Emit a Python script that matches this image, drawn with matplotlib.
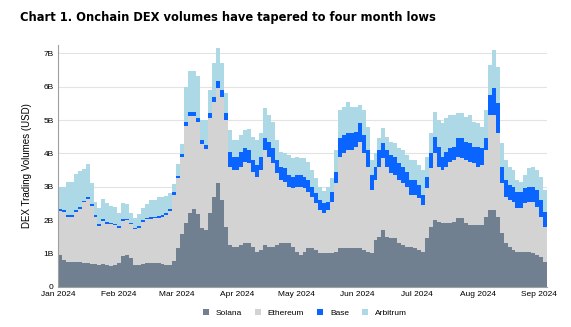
import numpy as np
import pandas as pd
import matplotlib
matplotlib.use('Agg')
import matplotlib.pyplot as plt
from matplotlib.patches import Patch

# DEX trading volume by chain, billion USD, one reading every 2 days from 1 Jan 2024
solana = [0.94, 0.81, 0.74, 0.74, 0.74, 0.73, 0.71, 0.71, 0.69, 0.69,
          0.66, 0.68, 0.66, 0.63, 0.66, 0.71, 0.91, 0.94, 0.86, 0.66,
          0.66, 0.69, 0.71, 0.70, 0.71, 0.70, 0.69, 0.66, 0.66, 0.76,
          1.16, 1.57, 1.92, 2.22, 2.32, 2.17, 1.75, 1.70, 2.20, 2.70,
          3.10, 2.60, 1.80, 1.25, 1.20, 1.20, 1.25, 1.30, 1.30, 1.20,
          1.05, 1.10, 1.25, 1.20, 1.20, 1.25, 1.30, 1.30, 1.30, 1.20,
          1.05, 0.95, 1.05, 1.15, 1.15, 1.10, 1.00, 1.00, 1.00, 1.00,
          1.05, 1.15, 1.15, 1.15, 1.15, 1.15, 1.15, 1.10, 1.05, 1.00,
          1.40, 1.50, 1.70, 1.50, 1.45, 1.45, 1.30, 1.25, 1.20, 1.20,
          1.15, 1.10, 1.05, 1.45, 1.80, 2.00, 1.95, 1.90, 1.90, 1.90,
          1.95, 2.05, 2.05, 1.90, 1.85, 1.85, 1.85, 1.85, 2.10, 2.30,
          2.30, 2.10, 1.60, 1.30, 1.20, 1.10, 1.05, 1.05, 1.05, 1.05,
          1.00, 0.95, 0.90, 0.75]
ethereum = [1.33, 1.44, 1.35, 1.35, 1.50, 1.61, 1.82, 1.92, 1.73, 1.41,
            1.16, 1.29, 1.23, 1.24, 1.18, 1.06, 1.07, 1.05, 1.01, 1.06,
            1.11, 1.25, 1.31, 1.34, 1.34, 1.37, 1.41, 1.49, 1.61, 1.99,
            2.09, 2.32, 2.91, 2.91, 2.81, 2.76, 2.52, 2.42, 2.85, 2.85,
            2.86, 3.10, 3.20, 2.35, 2.30, 2.30, 2.35, 2.45, 2.40, 2.25,
            2.25, 2.40, 2.85, 2.70, 2.50, 2.15, 1.90, 1.85, 1.70, 1.75,
            1.95, 2.05, 1.90, 1.70, 1.55, 1.40, 1.30, 1.20, 1.30, 1.55,
            2.05, 2.75, 2.85, 2.95, 2.95, 3.05, 3.20, 2.90, 2.55, 1.90,
            1.80, 2.10, 2.15, 2.10, 1.95, 1.90, 1.90, 1.85, 1.80, 1.55,
            1.60, 1.55, 1.40, 1.50, 1.75, 2.00, 1.65, 1.60, 1.70, 1.85,
            1.85, 1.85, 1.80, 1.90, 1.90, 1.85, 1.75, 1.80, 2.00, 2.85,
            2.85, 2.50, 1.50, 1.40, 1.40, 1.45, 1.30, 1.30, 1.45, 1.50,
            1.55, 1.45, 1.20, 1.05]
base = [0.05, 0.05, 0.05, 0.05, 0.05, 0.05, 0.05, 0.05, 0.05, 0.05,
        0.05, 0.05, 0.05, 0.05, 0.05, 0.05, 0.05, 0.05, 0.05, 0.05,
        0.05, 0.05, 0.05, 0.05, 0.05, 0.05, 0.05, 0.05, 0.05, 0.08,
        0.08, 0.10, 0.12, 0.12, 0.12, 0.12, 0.12, 0.12, 0.15, 0.15,
        0.20, 0.20, 0.20, 0.45, 0.40, 0.40, 0.45, 0.40, 0.40, 0.35,
        0.35, 0.40, 0.35, 0.45, 0.45, 0.40, 0.40, 0.40, 0.35, 0.35,
        0.35, 0.35, 0.35, 0.35, 0.30, 0.30, 0.30, 0.30, 0.25, 0.30,
        0.35, 0.55, 0.55, 0.50, 0.50, 0.45, 0.55, 0.55, 0.50, 0.45,
        0.40, 0.50, 0.45, 0.50, 0.55, 0.55, 0.50, 0.50, 0.45, 0.45,
        0.45, 0.40, 0.30, 0.35, 0.45, 0.50, 0.60, 0.40, 0.45, 0.40,
        0.40, 0.55, 0.60, 0.55, 0.55, 0.50, 0.60, 0.50, 0.35, 0.60,
        0.80, 0.90, 0.50, 0.50, 0.45, 0.45, 0.50, 0.50, 0.45, 0.45,
        0.45, 0.50, 0.50, 0.45]
arbitrum = [0.66, 0.68, 1.01, 0.99, 1.09, 1.07, 0.95, 0.99, 0.63, 0.40,
            0.50, 0.61, 0.56, 0.50, 0.50, 0.40, 0.47, 0.43, 0.30, 0.30,
            0.37, 0.38, 0.40, 0.51, 0.50, 0.56, 0.55, 0.53, 0.48, 0.25,
            0.36, 0.30, 1.05, 1.21, 1.21, 1.26, 0.61, 0.76, 0.70, 1.02,
            1.01, 0.82, 0.60, 0.65, 0.50, 0.50, 0.50, 0.55, 0.62, 0.70,
            0.75, 0.70, 0.90, 0.80, 0.80, 0.60, 0.45, 0.45, 0.60, 0.55,
            0.55, 0.50, 0.55, 0.55, 0.50, 0.45, 0.40, 0.38, 0.43, 0.40,
            0.65, 0.85, 0.85, 0.95, 0.80, 0.75, 0.55, 0.75, 0.70, 0.45,
            0.40, 0.35, 0.45, 0.40, 0.40, 0.40, 0.45, 0.50, 0.50, 0.60,
            0.60, 0.60, 0.75, 0.60, 0.60, 0.75, 0.80, 1.00, 1.00, 1.00,
            0.95, 0.75, 0.75, 0.75, 0.85, 0.75, 0.70, 0.65, 0.85, 0.90,
            1.15, 1.10, 0.70, 0.60, 0.55, 0.50, 0.35, 0.30, 0.40, 0.55,
            0.60, 0.60, 0.70, 0.65]

series_names = ['Solana', 'Ethereum', 'Base', 'Arbitrum']
series_colors = ['#708090', '#d3d3d3', '#0a64ff', '#add8e6']
ytick_labels = ['0', '1B', '2B', '3B', '4B', '5B', '6B', '7B']

dates = pd.date_range('2024-01-01', periods=len(solana), freq='2D')
x = np.append(dates.values, dates.values[-1] + np.timedelta64(2, 'D'))  # step edges

fig = plt.figure(figsize=(5.71, 3.27), dpi=100)
ax = fig.add_axes([0.1016, 0.1232, 0.8564, 0.7388])

# stacked step areas
bottom = np.zeros(len(solana))
for name, vals, col in zip(series_names, [solana, ethereum, base, arbitrum], series_colors):
    top = bottom + np.array(vals)
    ax.fill_between(x, np.append(bottom, bottom[-1]), np.append(top, top[-1]),
                    step='post', color=col, linewidth=0, zorder=2)
    bottom = top

ax.set_xlim(x[0], x[-1])
ax.set_ylim(0, 7.25)
ax.set_yticks(range(len(ytick_labels)))
ax.set_yticklabels(ytick_labels)
months = pd.date_range('2024-01-01', '2024-09-01', freq='MS')
ax.set_xticks(months)
ax.set_xticklabels([m.strftime('%b %Y') for m in months])
ax.tick_params(length=0, labelsize=6, pad=3)
for lab in ax.get_xticklabels() + ax.get_yticklabels():
    lab.set_fontfamily('Liberation Sans')

ax.grid(axis='y', color='#e3e3e3', linewidth=0.8, zorder=0)
ax.set_axisbelow(True)
for s in ['top', 'right']:
    ax.spines[s].set_visible(False)
ax.spines['left'].set_color('#a0a0a0')
ax.spines['bottom'].set_color('#a0a0a0')

ax.set_ylabel('DEX Trading Volumes (USD)', fontsize=7, family='Liberation Sans')
ax.yaxis.set_label_coords(-0.053, 0.5)

fig.text(0.035, 0.948, 'Chart 1. Onchain DEX volumes have tapered to four month lows',
         fontsize=8.3, fontweight='bold', ha='left', va='center', family='DejaVu Sans')

handles = [Patch(facecolor=c, edgecolor='none', label=n) for n, c in zip(series_names, series_colors)]
fig.legend(handles=handles, loc='center', bbox_to_anchor=(0.534, 0.043), ncol=4, frameon=False,
           handlelength=0.7, handleheight=0.7, columnspacing=1.6, handletextpad=0.8,
           prop={'family': 'Liberation Sans', 'size': 6})

fig.savefig('out.png', dpi=100)
